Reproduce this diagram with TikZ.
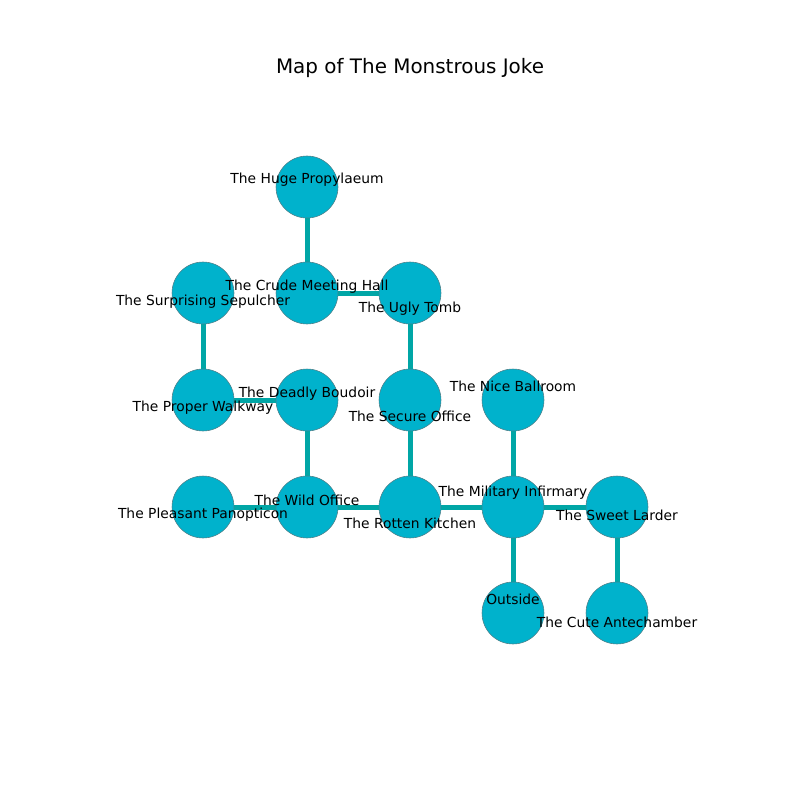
\documentclass[tikz,border=0pt]{standalone}
\usepackage{fontspec}
\setmainfont{DejaVu Sans}
\pgfdeclarelayer{bg}\pgfsetlayers{bg,main}
\begin{document}
\begin{tikzpicture}[x=0.7227pt,y=-0.7227pt,
  room/.style={circle,fill=roomfill,draw=roomedge,line width=0.4pt,minimum size=62*0.7227pt,inner sep=0pt},
  lbl/.style={font=\fontsize{10}{12}\selectfont,inner sep=0pt,text=black},
  link/.style={draw=linkcol,line width=5*0.7227pt}]
\definecolor{roomfill}{HTML}{00B2CC}
\definecolor{roomedge}{HTML}{4F7F88}
\definecolor{linkcol}{HTML}{00A6A6}
\useasboundingbox (0,0) rectangle (800,800);
\node[font=\fontsize{14.4}{17}\selectfont] (title) at (410,68) {Map of The Monstrous Joke};
% rooms
\node[room] (hp) at (307,187) {};
\node[room] (cm) at (307,293) {};
\node[room] (ss) at (203,293) {};
\node[room] (ut) at (410,293) {};
\node[room] (pw) at (203,400) {};
\node[room] (db) at (307,400) {};
\node[room] (so) at (410,400) {};
\node[room] (nb) at (513,400) {};
\node[room] (pp) at (203,507) {};
\node[room] (wo) at (307,507) {};
\node[room] (rk) at (410,507) {};
\node[room] (mi) at (513,507) {};
\node[room] (sl) at (617,507) {};
\node[room] (ou) at (513,613) {};
\node[room] (ca) at (617,613) {};
% links behind rooms
\begin{pgfonlayer}{bg}
\draw[link] (hp.center) -- (cm.center);
\draw[link] (cm.center) -- (ut.center);
\draw[link] (ss.center) -- (pw.center);
\draw[link] (pw.center) -- (db.center);
\draw[link] (db.center) -- (wo.center);
\draw[link] (ut.center) -- (so.center);
\draw[link] (so.center) -- (rk.center);
\draw[link] (pp.center) -- (wo.center);
\draw[link] (wo.center) -- (rk.center);
\draw[link] (rk.center) -- (mi.center);
\draw[link] (nb.center) -- (mi.center);
\draw[link] (mi.center) -- (sl.center);
\draw[link] (mi.center) -- (ou.center);
\draw[link] (sl.center) -- (ca.center);
\end{pgfonlayer}
% labels
\node[lbl] (lhp) at (307,180) {The Huge Propylaeum};
\node[lbl] (lcm) at (307,287) {The Crude Meeting Hall};
\node[lbl] (lss) at (203,302) {The Surprising Sepulcher};
\node[lbl] (lut) at (410,309) {The Ugly Tomb};
\node[lbl] (lpw) at (203,408) {The Proper Walkway};
\node[lbl] (ldb) at (307,394) {The Deadly Boudoir};
\node[lbl] (lso) at (410,416) {The Secure Office};
\node[lbl] (lnb) at (513,386) {The Nice Ballroom};
\node[lbl] (lpp) at (203,515) {The Pleasant Panopticon};
\node[lbl] (lwo) at (307,500) {The Wild Office};
\node[lbl] (lrk) at (410,523) {The Rotten Kitchen};
\node[lbl] (lmi) at (513,493) {The Military Infirmary};
\node[lbl] (lsl) at (617,515) {The Sweet Larder};
\node[lbl] (lou) at (513,599) {Outside};
\node[lbl] (lca) at (617,622) {The Cute Antechamber};
\end{tikzpicture}
\end{document}
